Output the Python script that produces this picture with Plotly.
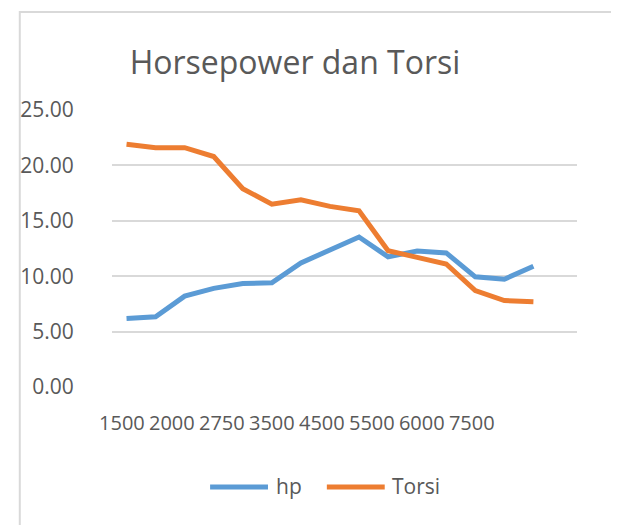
import plotly.graph_objects as go

# Data
point_index = list(range(15))
hp = [6.19, 6.33, 8.2, 8.9, 9.34, 9.4, 11.2, 12.4, 13.54, 11.74, 12.28, 12.1, 9.94, 9.73, 10.9]
torsi = [21.9, 21.6, 21.6, 20.8, 17.9, 16.5, 16.9, 16.3, 15.9, 12.3, 11.7, 11.1, 8.7, 7.8, 7.7]
tick_labels = ["1500", "2000", "2750", "3500", "4500", "5500", "6000", "7500"]
series_names = ["hp", "Torsi"]

BLUE = "#5B9BD5"
ORANGE = "#ED7D31"
TEXT = "#595959"
GRID = "#D9D9D9"
FONT = "Open Sans"

OFF = 8  # page body margin
W, H = 619 - OFF, 525 - OFF
# plot area in page pixels: x 103..577, y 110..387
L, T = 103 - OFF, 110 - OFF
R = W - (577 - OFF)
B = H - (387 - OFF)
pw, ph = W - L - R, H - T - B

fig = go.Figure()
fig.add_trace(go.Scatter(x=point_index, y=hp, mode="lines", name=series_names[0],
                         line=dict(color=BLUE, width=5), showlegend=False))
fig.add_trace(go.Scatter(x=point_index, y=torsi, mode="lines", name=series_names[1],
                         line=dict(color=ORANGE, width=5), showlegend=False))

tick_pos = [-0.16 + 1.72 * i for i in range(len(tick_labels))]

def px_x(p):  # page pixel -> paper
    return (p - OFF - L) / pw

def px_y(p):
    return 1 - (p - OFF - T) / ph

shapes = [
    # chart frame: only its top and left edges fall inside the picture
    dict(type="rect", xref="paper", yref="paper", x0=px_x(9), x1=px_x(700), y0=px_y(12), y1=px_y(600),
         line=dict(color=GRID, width=2), fillcolor="rgba(0,0,0,0)", layer="below"),
    dict(type="line", xref="paper", yref="paper", x0=px_x(203), x1=px_x(262), y0=px_y(487), y1=px_y(487),
         line=dict(color=BLUE, width=5)),
    dict(type="line", xref="paper", yref="paper", x0=px_x(322), x1=px_x(381), y0=px_y(487), y1=px_y(487),
         line=dict(color=ORANGE, width=5)),
]

annotations = [
    dict(text=series_names[0], xref="paper", yref="paper", x=px_x(268), y=px_y(486), xanchor="left",
         yanchor="middle", showarrow=False, font=dict(family=FONT, size=21, color=TEXT)),
    dict(text=series_names[1], xref="paper", yref="paper", x=px_x(386), y=px_y(486), xanchor="left",
         yanchor="middle", showarrow=False, font=dict(family=FONT, size=21, color=TEXT)),
]

fig.update_layout(
    width=W, height=H,
    margin=dict(l=L, r=R, t=T, b=B),
    paper_bgcolor="white", plot_bgcolor="white",
    title=dict(text="Horsepower dan Torsi", x=(295 - OFF) / W, xanchor="center",
               y=1 - (63 - OFF) / H, yanchor="middle",
               font=dict(family=FONT, size=32, color=TEXT)),
    shapes=shapes,
    annotations=annotations,
    xaxis=dict(range=[-0.5, 15.5], tickmode="array", tickvals=tick_pos, ticktext=tick_labels,
               showgrid=False, zeroline=False, showline=False,
               ticks="outside", ticklen=18, tickcolor="rgba(0,0,0,0)",
               tickfont=dict(family=FONT, size=20, color=TEXT)),
    yaxis=dict(range=[0, 25], dtick=5, tickformat=".2f", showgrid=True, gridcolor=GRID, gridwidth=2,
               zeroline=False, showline=False,
               ticks="outside", ticklen=33, tickcolor="rgba(0,0,0,0)",
               tickfont=dict(family=FONT, size=21, color=TEXT)),
)

fig.write_html("out.html")
